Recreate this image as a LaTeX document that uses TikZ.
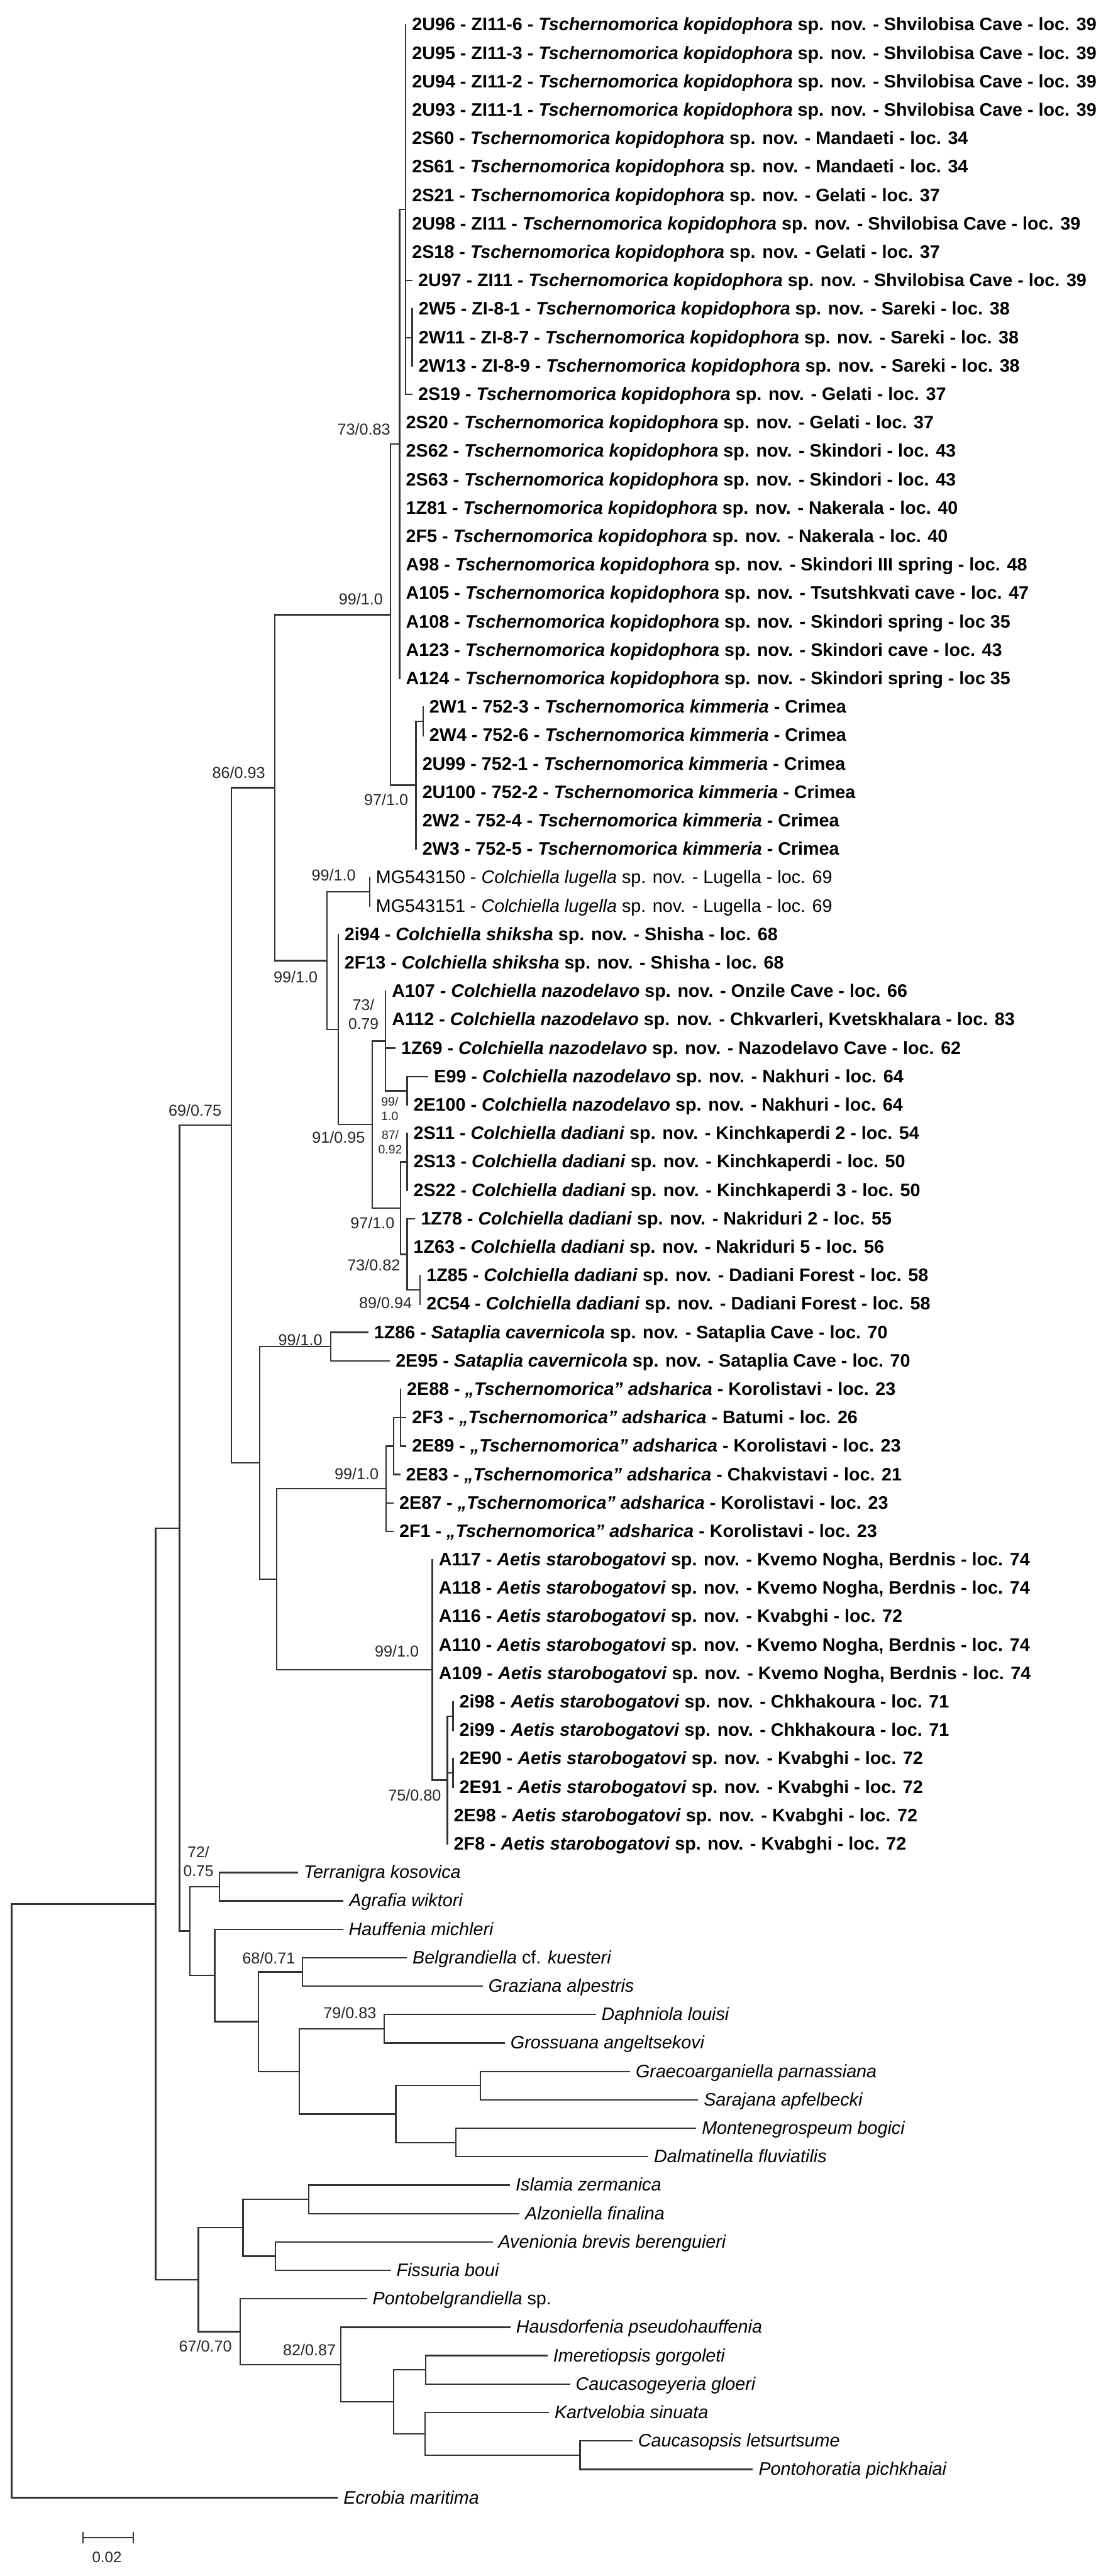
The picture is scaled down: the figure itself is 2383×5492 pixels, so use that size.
\documentclass[tikz,border=0pt]{standalone}
\usepackage{fontspec}
\setmainfont{Liberation Sans}
\usepackage{tikz}
\tikzset{x=.01cm,y=-.01cm}

% repeated species names
\newcommand\kopi{\textit{Tschernomorica kopidophora} sp. nov.}
\newcommand\kimm{\textit{Tschernomorica kimmeria}}
\newcommand\lugel{\textit{Colchiella lugella} sp. nov.}
\newcommand\shiks{\textit{Colchiella shiksha} sp. nov.}
\newcommand\nazod{\textit{Colchiella nazodelavo} sp. nov.}
\newcommand\dadia{\textit{Colchiella dadiani} sp. nov.}
\newcommand\satap{\textit{Sataplia cavernicola} sp. nov.}
\newcommand\adsha{\textit{„Tschernomorica” adsharica}}
\newcommand\aetis{\textit{Aetis starobogatovi} sp. nov.}

\begin{document}
\begin{tikzpicture}[
  branch/.style={draw=black!80, line width=.9pt, line cap=rect},
  spec/.style={anchor=west, inner xsep=.13cm, inner ysep=0pt, text height=.72em,
    text depth=0pt, font=\fontsize{10.95}{13}\selectfont\bfseries},
  plain/.style={spec, font=\fontsize{10.95}{13}\selectfont},
  taxon/.style={spec, font=\fontsize{10.95}{13}\selectfont\itshape},
  supp/.style={anchor=east, inner sep=0pt, text height=.72em, text depth=0pt,
    text=black!85, font=\fontsize{9.6}{11}\selectfont},
  suppmid/.style={anchor=east, inner sep=0pt, align=center, text=black!85,
    font=\fontsize{9.4}{11.3}\selectfont},
  supptiny/.style={anchor=east, inner sep=0pt, align=center, text=black!85,
    font=\fontsize{7.4}{8.6}\selectfont}
]
\useasboundingbox (0,0) rectangle (2383,5492);

% specimens (ingroup)
\foreach \i/\x/\t in {
  0/865/{2U96 - ZI11-6 - \kopi{} - Shvilobisa Cave - loc. 39},
  1/865/{2U95 - ZI11-3 - \kopi{} - Shvilobisa Cave - loc. 39},
  2/865/{2U94 - ZI11-2 - \kopi{} - Shvilobisa Cave - loc. 39},
  3/865/{2U93 - ZI11-1 - \kopi{} - Shvilobisa Cave - loc. 39},
  4/865/{2S60 - \kopi{} - Mandaeti - loc. 34},
  5/865/{2S61 - \kopi{} - Mandaeti - loc. 34},
  6/865/{2S21 - \kopi{} - Gelati - loc. 37},
  7/865/{2U98 - ZI11 - \kopi{} - Shvilobisa Cave - loc. 39},
  8/865/{2S18 - \kopi{} - Gelati - loc. 37},
  9/878/{2U97 - ZI11 - \kopi{} - Shvilobisa Cave - loc. 39},
  10/879/{2W5 - ZI-8-1 - \kopi{} - Sareki - loc. 38},
  11/879/{2W11 - ZI-8-7 - \kopi{} - Sareki - loc. 38},
  12/879/{2W13 - ZI-8-9 - \kopi{} - Sareki - loc. 38},
  13/878/{2S19 - \kopi{} - Gelati - loc. 37},
  14/852/{2S20 - \kopi{} - Gelati - loc. 37},
  15/852/{2S62 - \kopi{} - Skindori - loc. 43},
  16/852/{2S63 - \kopi{} - Skindori - loc. 43},
  17/852/{1Z81 - \kopi{} - Nakerala - loc. 40},
  18/852/{2F5 - \kopi{} - Nakerala - loc. 40},
  19/852/{A98 - \kopi{} - Skindori III spring - loc. 48},
  20/852/{A105 - \kopi{} - Tsutshkvati cave - loc. 47},
  21/852/{A108 - \kopi{} - Skindori spring - loc 35},
  22/852/{A123 - \kopi{} - Skindori cave - loc. 43},
  23/852/{A124 - \kopi{} - Skindori spring - loc 35},
  24/902/{2W1 - 752-3 - \kimm{} - Crimea},
  25/902/{2W4 - 752-6 - \kimm{} - Crimea},
  26/887/{2U99 - 752-1 - \kimm{} - Crimea},
  27/887/{2U100 - 752-2 - \kimm{} - Crimea},
  28/887/{2W2 - 752-4 - \kimm{} - Crimea},
  29/887/{2W3 - 752-5 - \kimm{} - Crimea},
  32/721/{2i94 - \shiks{} - Shisha - loc. 68},
  33/721/{2F13 - \shiks{} - Shisha - loc. 68},
  34/822/{A107 - \nazod{} - Onzile Cave - loc. 66},
  35/822/{A112 - \nazod{} - Chkvarleri, Kvetskhalara - loc. 83},
  36/842/{1Z69 - \nazod{} - Nazodelavo Cave - loc. 62},
  37/912/{E99 - \nazod{} - Nakhuri - loc. 64},
  38/868/{2E100 - \nazod{} - Nakhuri - loc. 64},
  39/868/{2S11 - \dadia{} - Kinchkaperdi 2 - loc. 54},
  40/868/{2S13 - \dadia{} - Kinchkaperdi - loc. 50},
  41/868/{2S22 - \dadia{} - Kinchkaperdi 3 - loc. 50},
  42/884/{1Z78 - \dadia{} - Nakriduri 2 - loc. 55},
  43/868/{1Z63 - \dadia{} - Nakriduri 5 - loc. 56},
  44/896/{1Z85 - \dadia{} - Dadiani Forest - loc. 58},
  45/896/{2C54 - \dadia{} - Dadiani Forest - loc. 58},
  46/784/{1Z86 - \satap{} - Sataplia Cave - loc. 70},
  47/830/{2E95 - \satap{} - Sataplia Cave - loc. 70},
  48/854/{2E88 - \adsha{} - Korolistavi - loc. 23},
  49/865/{2F3 - \adsha{} - Batumi - loc. 26},
  50/865/{2E89 - \adsha{} - Korolistavi - loc. 23},
  51/852/{2E83 - \adsha{} - Chakvistavi - loc. 21},
  52/838/{2E87 - \adsha{} - Korolistavi - loc. 23},
  53/838/{2F1 - \adsha{} - Korolistavi - loc. 23},
  54/922/{A117 - \aetis{} - Kvemo Nogha, Berdnis - loc. 74},
  55/922/{A118 - \aetis{} - Kvemo Nogha, Berdnis - loc. 74},
  56/922/{A116 - \aetis{} - Kvabghi - loc. 72},
  57/922/{A110 - \aetis{} - Kvemo Nogha, Berdnis - loc. 74},
  58/922/{A109 - \aetis{} - Kvemo Nogha, Berdnis - loc. 74},
  59/966/{2i98 - \aetis{} - Chkhakoura - loc. 71},
  60/966/{2i99 - \aetis{} - Chkhakoura - loc. 71},
  61/966/{2E90 - \aetis{} - Kvabghi - loc. 72},
  62/966/{2E91 - \aetis{} - Kvabghi - loc. 72},
  63/954/{2E98 - \aetis{} - Kvabghi - loc. 72},
  64/954/{2F8 - \aetis{} - Kvabghi - loc. 72}}
  \node[spec] (L\i) at (\x,{53+60.6*\i}) {\t};

% GenBank sequences
\foreach \i/\t in {30/MG543150, 31/MG543151}
  \node[plain] (L\i) at (788,{53+60.6*\i}) {\t{} - \lugel{} - Lugella - loc. 69};

% outgroup taxa
\foreach \i/\x/\t in {
  65/634/{Terranigra kosovica}, 66/731/{Agrafia wiktori},
  67/730/{Hauffenia michleri}, 68/866/{Belgrandiella \textup{cf.} kuesteri},
  69/1028/{Graziana alpestris}, 70/1269/{Daphniola louisi},
  71/1075/{Grossuana angeltsekovi}, 72/1342/{Graecoarganiella parnassiana},
  73/1487/{Sarajana apfelbecki}, 74/1483/{Montenegrospeum bogici},
  75/1381/{Dalmatinella fluviatilis}, 76/1086/{Islamia zermanica},
  77/1106/{Alzoniella finalina}, 78/1049/{Avenionia brevis berenguieri},
  79/832/{Fissuria boui}, 80/781/{Pontobelgrandiella \textup{sp.}},
  81/1087/{Hausdorfenia pseudohauffenia}, 82/1166/{Imeretiopsis gorgoleti},
  83/1214/{Caucasogeyeria gloeri}, 84/1169/{Kartvelobia sinuata},
  85/1347/{Caucasopsis letsurtsume}, 86/1604/{Pontohoratia pichkhaiai},
  87/719/{Ecrobia maritima}}
  \node[taxon] (L\i) at (\x,{53+60.6*\i}) {\t};

% internal nodes
\coordinate (kA) at (865,446.9);   \coordinate (kB) at (879,719.6);
\coordinate (kC) at (852,946.9);   \coordinate (kimA) at (902,1537.7);
\coordinate (kimB) at (887,1674.1); \coordinate (kop) at (833,1310.5);
\coordinate (lug) at (788,1901.3); \coordinate (enn) at (868,2325.5);
\coordinate (naz) at (822,2219.5); \coordinate (dA) at (868,2477.0);
\coordinate (dC) at (896,2749.7);  \coordinate (dB) at (868,2674.0);
\coordinate (dad) at (854,2575.5); \coordinate (nd) at (794,2397.5);
\coordinate (shk) at (721,2194.9); \coordinate (col) at (697,2048.1);
\coordinate (c86) at (586,1679.3); \coordinate (sat) at (705,2870.9);
\coordinate (adB) at (854,3022.4); \coordinate (adA) at (839,3083.0);
\coordinate (ads) at (823,3173.9); \coordinate (aeB) at (966,3658.7);
\coordinate (aeC) at (966,3779.9); \coordinate (aeA) at (954,3795.1);
\coordinate (aet) at (922,3560.2); \coordinate (aa) at (590,3367.1);
\coordinate (sa) at (554,3119.0);  \coordinate (c69) at (493,2399.1);
\coordinate (ta) at (468,4022.3);  \coordinate (bg) at (645,4204.1);
\coordinate (dg) at (819,4325.3);  \coordinate (gr) at (1024,4446.5);
\coordinate (md) at (972,4567.7);  \coordinate (gs) at (844,4507.1);
\coordinate (n79) at (638,4416.2); \coordinate (n68) at (551,4310.2);
\coordinate (ha) at (458,4211.7);  \coordinate (og1) at (405,4117.0);
\coordinate (ing) at (383,3258.1); \coordinate (ia) at (658,4688.9);
\coordinate (af) at (587,4810.1);  \coordinate (iaf) at (518,4749.5);
\coordinate (ic) at (908,5052.5);  \coordinate (cp) at (1237,5234.3);
\coordinate (kc) at (906,5188.9);  \coordinate (cc) at (839,5120.7);
\coordinate (hz) at (727,5041.2);  \coordinate (pb) at (512,4971.1);
\coordinate (og2) at (423,4860.3); \coordinate (ogr) at (332,4059.2);
\coordinate (root) at (25,4692.2);

% vertical parts of the nodes
\foreach \p/\a/\b in {kA/L0/L13, kB/L10/L12, kC/kA/L23, kimA/L24/L25,
  kimB/kimA/L29, kop/kC/kimB, lug/L30/L31, enn/L37/L38, naz/L34/enn,
  dA/L39/L41, dC/L44/L45, dB/L42/dC, dad/dA/dB, nd/naz/dad, shk/L32/nd,
  col/lug/shk, c86/kop/col, sat/L46/L47, adB/L48/L50, adA/adB/L51,
  ads/adA/L53, aeB/L59/L60, aeC/L61/L62, aeA/aeB/L64, aet/L54/aeA,
  aa/ads/aet, sa/sat/aa, c69/c86/sa, ta/L65/L66, bg/L68/L69, dg/L70/L71,
  gr/L72/L73, md/L74/L75, gs/gr/md, n79/dg/gs, n68/bg/n79, ha/L67/n68,
  og1/ta/ha, ing/c69/og1, ia/L76/L77, af/L78/L79, iaf/ia/af, ic/L82/L83,
  cp/L85/L86, kc/L84/cp, cc/ic/kc, hz/L81/cc, pb/L80/hz, og2/iaf/pb,
  ogr/ing/og2, root/ogr/L87}
  \draw[branch] (\p |- \a) -- (\p |- \b);

% branches to the children
\foreach \p/\c in {kA/L9, kA/kB, kA/L13, kC/kA, kimB/kimA, kop/kC, kop/kimB,
  enn/L37, naz/L36, naz/enn, dB/L42, dB/dC, dad/dA, dad/dB, nd/naz, nd/dad,
  shk/nd, col/lug, col/shk, c86/kop, c86/col, sat/L46, sat/L47, adB/L49,
  adB/L50, adA/adB, adA/L51, ads/adA, ads/L52, ads/L53, aeA/aeB, aeA/aeC,
  aet/aeA, aa/ads, aa/aet, sa/sat, sa/aa, c69/c86, c69/sa, ta/L65, ta/L66,
  bg/L68, bg/L69, dg/L70, dg/L71, gr/L72, gr/L73, md/L74, md/L75, gs/gr,
  gs/md, n79/dg, n79/gs, n68/bg, n68/n79, ha/L67, ha/n68, og1/ta, og1/ha,
  ing/c69, ing/og1, ia/L76, ia/L77, af/L78, af/L79, iaf/ia, iaf/af,
  ic/L82, ic/L83, cp/L85, cp/L86, kc/L84, kc/cp, cc/ic, cc/kc, hz/L81,
  hz/cc, pb/L80, pb/hz, og2/iaf, og2/pb, ogr/ing, ogr/og2, root/ogr,
  root/L87}
  \draw[branch] (\p |- \c) -- (\c);

% bootstrap / posterior support
\node[supp] (sKC) at (833,915) {73/0.83};
\node[supp] (sKop) at (817,1277) {99/1.0};
\node[supp] (sKim) at (871,1704) {97/1.0};
\node[supp] (s86) at (566,1647) {86/0.93};
\node[supp] (sLug) at (759,1865) {99/1.0};
\node[supp] (sCol) at (678,2082) {99/1.0};
\node[suppmid] (sNaz) at (808,2162) {73/\\0.79};
\node[supptiny] (sEnn) at (850,2364) {99/\\1.0};
\node[supp] (sNd) at (779,2424) {91/0.95};
\node[supptiny] (sDA) at (858,2435) {87/\\0.92};
\node[supp] (sDad) at (842,2606) {97/1.0};
\node[supp] (sDB) at (854,2697) {73/0.82};
\node[supp] (sDC) at (879,2777) {89/0.94};
\node[supp] (s69) at (473,2366) {69/0.75};
\node[supp] (sSat) at (688,2856) {99/1.0};
\node[supp] (sAds) at (808,3141) {99/1.0};
\node[supp] (sAet) at (894,3520) {99/1.0};
\node[supp] (sAeA) at (941,3827) {75/0.80};
\node[suppmid] (sTa) at (456,3968) {72/\\0.75};
\node[supp] (sBg) at (630,4174) {68/0.71};
\node[supp] (sDg) at (803,4290) {79/0.83};
\node[supp] (sPb) at (495,5001) {67/0.70};
\node[supp] (sHz) at (717,5009) {82/0.87};

% scale bar
\coordinate (barL) at (177,5410);
\coordinate (barR) at (284,5410);
\draw[branch] (barL) -- (barR);
\draw[branch] (barL) ++(0,-11) -- ++(0,22);
\draw[branch] (barR) ++(0,-11) -- ++(0,22);
\node[supp, anchor=center, font=\fontsize{9.2}{11}\selectfont] (barT) at (228,5450) {0.02};
\end{tikzpicture}
\end{document}
